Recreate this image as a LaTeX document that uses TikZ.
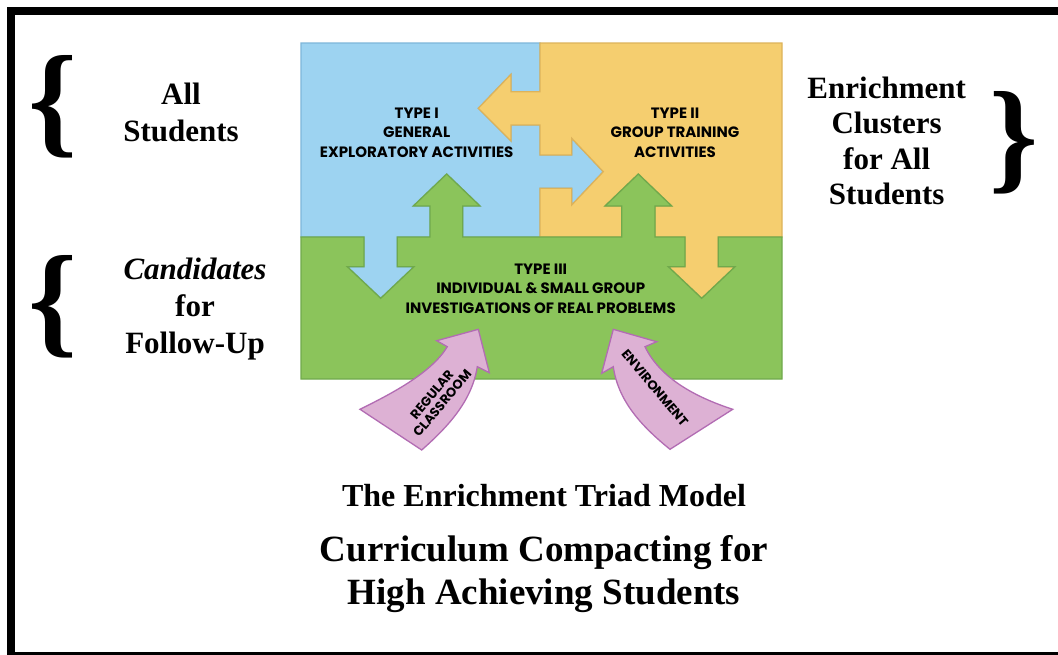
\documentclass[tikz,border=0pt]{standalone}
\usepackage{fontspec}
\setmainfont{Liberation Serif}
\newfontfamily\typefont{Poppins}
\usepackage{tikz}
\definecolor{skyfill}{HTML}{9DD3F1}
\definecolor{skyline}{HTML}{7DB6DA}
\definecolor{sunfill}{HTML}{F5CE6F}
\definecolor{sunline}{HTML}{DDB35A}
\definecolor{leaffill}{HTML}{8BC45B}
\definecolor{leafline}{HTML}{70A94C}
\definecolor{pinkfill}{HTML}{DDB1D4}
\definecolor{pinkline}{HTML}{B26CB3}
\tikzset{
  zone/.style={line width=1.3pt, line join=miter},
  skyzone/.style={zone, fill=skyfill, draw=skyline},
  sunzone/.style={zone, fill=sunfill, draw=sunline},
  leafzone/.style={zone, fill=leaffill, draw=leafline},
  pinkarrow/.style={fill=pinkfill, draw=pinkline, line width=1.3pt, line join=miter},
  typelab/.style={font=\typefont\bfseries\fontsize{15}{19.5}\selectfont, align=center, inner sep=0pt},
  pinklab/.style={font=\typefont\bfseries\fontsize{13}{13.5}\selectfont, align=center, inner sep=0pt},
  sidelab/.style={font=\bfseries\fontsize{31}{37}\selectfont, align=center, inner sep=0pt},
  brc/.style={font=\bfseries\fontsize{124}{124}\selectfont, inner sep=0pt}
}

\begin{document}
\begin{tikzpicture}[x=1pt, y=-1pt]
  \clip (0,0) rectangle (1058,654);
  \fill[white] (0,0) rectangle (1058,654);
  % frame
  \draw[line width=8pt] (11,11) rectangle (1066,656);

  % type I zone
  \draw[skyzone] (301,43) -- (540,43) -- (540,91.7) -- (511,91.7) -- (511,74.3)
    -- (478.3,108.3) -- (511,141) -- (511,125) -- (540,125) -- (540,155)
    -- (571.7,155) -- (571.7,138.3) -- (603.3,171.7) -- (571.7,205) -- (571.7,188.3)
    -- (540,188.3) -- (540,237) -- (462.7,237) -- (462.7,206) -- (480,206)
    -- (446.7,174) -- (413.3,206) -- (430,206) -- (430,237) -- (397.3,237)
    -- (397.3,266.7) -- (414,266.7) -- (380.7,298.3) -- (347.3,266.7) -- (364,266.7)
    -- (364,237) -- (301,237) -- cycle;
  % type II zone
  \draw[sunzone] (540,43) -- (782,43) -- (782,237) -- (718.3,237) -- (718.3,266.7)
    -- (735,266.7) -- (701.7,298.3) -- (668.3,266.7) -- (685,266.7) -- (685,237)
    -- (655,237) -- (655,206) -- (671.7,206) -- (638.3,174) -- (605,206)
    -- (621.7,206) -- (621.7,237) -- (540,237) -- (540,188.3) -- (571.7,188.3)
    -- (571.7,205) -- (603.3,171.7) -- (571.7,138.3) -- (571.7,155) -- (540,155)
    -- (540,125) -- (511,125) -- (511,141) -- (478.3,108.3) -- (511,74.3)
    -- (511,91.7) -- (540,91.7) -- cycle;
  % type III zone
  \draw[leafzone] (301,237) -- (364,237) -- (364,266.7) -- (347.3,266.7)
    -- (380.7,298.3) -- (414,266.7) -- (397.3,266.7) -- (397.3,237) -- (430,237)
    -- (430,206) -- (413.3,206) -- (446.7,174) -- (480,206) -- (462.7,206)
    -- (462.7,237) -- (621.7,237) -- (621.7,206) -- (605,206) -- (638.3,174)
    -- (671.7,206) -- (655,206) -- (655,237) -- (685,237) -- (685,266.7)
    -- (668.3,266.7) -- (701.7,298.3) -- (735,266.7) -- (718.3,266.7) -- (718.3,237)
    -- (782,237) -- (782,379) -- (301,379) -- cycle;

  \node[typelab] (typeI) at (416.7,132.5) {TYPE I\\GENERAL\\EXPLORATORY ACTIVITIES};
  \node[typelab] (typeII) at (675,132.5) {TYPE II\\GROUP TRAINING\\ACTIVITIES};
  \node[typelab] (typeIII) at (540.7,288.3) {TYPE III\\INDIVIDUAL \& SMALL GROUP\\INVESTIGATIONS OF REAL PROBLEMS};

  % incoming arrows
  \draw[pinkarrow] (360,409.3) .. controls (395,392) and (432,372) .. (447.3,346.7)
    -- (436.7,340.7) -- (478.3,329.3) -- (489.3,372.7) -- (477.3,366.7)
    .. controls (472,400) and (450,425) .. (421.7,450) -- cycle;
  \draw[pinkarrow] (732.7,409.3) .. controls (695,397) and (660,378) .. (645,346.7)
    -- (656.7,341.7) -- (613.3,329.3) -- (601.7,373.3) -- (613.3,366.7)
    .. controls (618,400) and (640,425) .. (670,449.3) -- cycle;
  \node[pinklab, rotate=50] (regular) at (437,399) {REGULAR\\CLASSROOM};
  \node[pinklab, rotate=-50] (environ) at (655,388) {ENVIRONMENT};

  % side labels
  \node[brc] (braceA) at (53,107) {\{};
  \node[brc] (braceB) at (53,307) {\{};
  \node[brc] (braceC) at (1014,143) {\}};
  \node[sidelab] (allstud) at (181,112) {All\\Students};
  \node[sidelab] (cand) at (195,309) {\textit{Candidates}\\for\\Follow-Up};
  \node[sidelab, font=\bfseries\fontsize{31}{35.5}\selectfont] (clusters) at (886.7,141) {Enrichment\\Clusters\\for All\\Students};

  % titles
  \node[font=\bfseries\fontsize{32}{38}\selectfont, inner sep=0pt] (triad) at (544,496) {The Enrichment Triad Model};
  \node[font=\bfseries\fontsize{37}{43}\selectfont, align=center, inner sep=0pt] (compact) at (544,574) {Curriculum Compacting for\\High Achieving Students};
\end{tikzpicture}
\end{document}
